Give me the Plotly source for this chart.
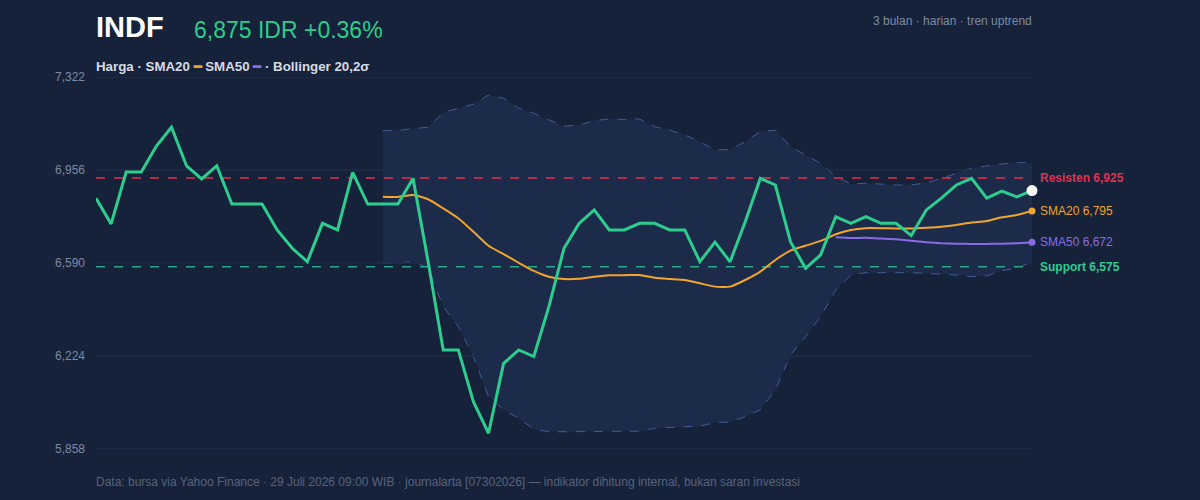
import plotly.graph_objects as go

# ---------------- data ----------------
price = [6845, 6744, 6948, 6948, 7050, 7124, 6972, 6921, 6973, 6822,
         6822, 6822, 6720, 6648, 6595, 6746, 6720, 6947, 6822, 6822,
         6822, 6923, 6595, 6248, 6248, 6044, 5920, 6195, 6248, 6222,
         6418, 6648, 6746, 6799, 6720, 6720, 6746, 6746, 6720, 6720,
         6595, 6672, 6595, 6751, 6923, 6897, 6674, 6569, 6622, 6772,
         6746, 6772, 6746, 6746, 6698, 6799, 6845, 6897, 6923, 6845,
         6873, 6850, 6875]

# indicators start at index 19 (SMA20 / Bollinger) and 49 (SMA50)
sma20 = [6851, 6850, 6858, 6841, 6805, 6766, 6713, 6658, 6625, 6591,
         6559, 6536, 6527, 6528, 6536, 6542, 6542, 6543, 6532, 6527,
         6523, 6510, 6497, 6497, 6523, 6556, 6602, 6639, 6658, 6677,
         6703, 6720, 6727, 6727, 6726, 6726, 6729, 6733, 6740, 6749,
         6755, 6770, 6779, 6795]
boll_upper = [7111, 7111, 7119, 7124, 7183, 7199, 7215, 7251, 7238, 7199,
              7179, 7153, 7129, 7133, 7150, 7157, 7155, 7157, 7126, 7113,
              7094, 7067, 7035, 7037, 7067, 7107, 7113, 7048, 7015, 6982,
              6930, 6901, 6904, 6901, 6897, 6897, 6906, 6923, 6943, 6963,
              6972, 6980, 6985, 6985]
boll_lower = [6589, 6589, 6598, 6569, 6418, 6340, 6222, 6064, 6012, 5979,
              5936, 5926, 5926, 5926, 5926, 5926, 5926, 5928, 5940, 5942,
              5946, 5948, 5962, 5964, 5985, 6012, 6090, 6228, 6300, 6379,
              6484, 6543, 6552, 6552, 6552, 6552, 6549, 6546, 6543, 6536,
              6539, 6560, 6569, 6595]
sma50 = [6691, 6688, 6689, 6686, 6683, 6678, 6672, 6668, 6666, 6665,
         6665, 6666, 6668, 6672]

resistance = 6925
support = 6575
y_ticks = [5858, 6224, 6590, 6956, 7322]
y_tick_text = ["5,858", "6,224", "6,590", "6,956", "7,322"]

x_all = list(range(len(price)))
x20 = list(range(19, 19 + len(sma20)))
x50 = list(range(49, 49 + len(sma50)))
x_last = len(price) - 1

# ---------------- style ----------------
BG = "#16223a"
BAND_FILL = "#1c2b4a"
BAND_LINE = "#405c94"
GREEN = "#2ecc8f"
ORANGE = "#f0a52e"
PURPLE = "#8a6be6"
RED = "#dc3350"
TEAL = "#28a888"
GRID = "#1f2c48"
MUTED = "#7d8aa3"
FONT = "Liberation Sans, Arial, sans-serif"

fig = go.Figure()

# Bollinger band
fig.add_trace(go.Scatter(x=x20, y=boll_upper, mode="lines",
                         line=dict(color=BAND_LINE, width=1, dash="dash"),
                         hoverinfo="skip", showlegend=False))
fig.add_trace(go.Scatter(x=x20, y=boll_lower, mode="lines",
                         line=dict(color=BAND_LINE, width=1, dash="dash"),
                         fill="tonexty", fillcolor=BAND_FILL,
                         hoverinfo="skip", showlegend=False))

# horizontal grid lines (drawn above the band fill)
for t in y_ticks:
    fig.add_trace(go.Scatter(x=[0, x_last], y=[t, t], mode="lines",
                             line=dict(color=GRID, width=1.5),
                             hoverinfo="skip", showlegend=False, cliponaxis=False))

# support / resistance
fig.add_trace(go.Scatter(x=[0, x_last], y=[resistance, resistance], mode="lines",
                         line=dict(color=RED, width=1.5, dash="dash"),
                         hoverinfo="skip", showlegend=False))
fig.add_trace(go.Scatter(x=[0, x_last], y=[support, support], mode="lines",
                         line=dict(color=TEAL, width=1.5, dash="dash"),
                         hoverinfo="skip", showlegend=False))

# SMAs
fig.add_trace(go.Scatter(x=x20, y=sma20, mode="lines",
                         line=dict(color=ORANGE, width=2, shape="spline", smoothing=0.5),
                         showlegend=False))
fig.add_trace(go.Scatter(x=x50, y=sma50, mode="lines",
                         line=dict(color=PURPLE, width=2, shape="spline", smoothing=0.5),
                         showlegend=False))

# price
fig.add_trace(go.Scatter(x=x_all, y=price, mode="lines",
                         line=dict(color=GREEN, width=3), showlegend=False))

# end markers
fig.add_trace(go.Scatter(x=[x20[-1]], y=[sma20[-1]], mode="markers",
                         marker=dict(color=ORANGE, size=7), cliponaxis=False, showlegend=False))
fig.add_trace(go.Scatter(x=[x50[-1]], y=[sma50[-1]], mode="markers",
                         marker=dict(color=PURPLE, size=7), cliponaxis=False, showlegend=False))
fig.add_trace(go.Scatter(x=[x_last], y=[price[-1]], mode="markers",
                         marker=dict(color="#ffffff", size=11), cliponaxis=False, showlegend=False))

annotations = [
    dict(text="<b>INDF</b>", x=0, y=1.134, xref="paper", yref="paper",
         xanchor="left", yanchor="middle", showarrow=False, xshift=-2,
         font=dict(size=29, color="#ffffff", family=FONT)),
    dict(text="6,875 IDR +0.36%", x=0.1047, y=1.126, xref="paper", yref="paper",
         xanchor="left", yanchor="middle", showarrow=False, xshift=-2,
         font=dict(size=23, color=GREEN, family=FONT)),
    dict(text="3 bulan · harian · tren uptrend", x=1, y=1.151, xref="paper", yref="paper",
         xanchor="right", yanchor="middle", showarrow=False, xshift=2,
         font=dict(size=12, color=MUTED, family=FONT)),
    dict(text=("<b>Harga · SMA20 <span style='color:%s'>━</span> SMA50 "
               "<span style='color:%s'>━</span> · Bollinger 20,2σ</b>") % (ORANGE, PURPLE),
         x=0, y=1.027, xref="paper", yref="paper",
         xanchor="left", yanchor="middle", showarrow=False, xshift=-2,
         font=dict(size=13.3, color="#d5dbe8", family=FONT)),
    dict(text="Data: bursa via Yahoo Finance · 29 Juli 2026 09:00 WIB · journalarta [07302026] — indikator dihitung internal, bukan saran investasi",
         x=0, y=-0.0887, xref="paper", yref="paper",
         xanchor="left", yanchor="middle", showarrow=False, xshift=-2,
         font=dict(size=12, color="#56627c", family=FONT)),
    dict(text="<b>Resisten 6,925</b>", x=1, y=resistance, xref="paper", yref="y",
         xanchor="left", yanchor="middle", xshift=6, showarrow=False,
         font=dict(size=12, color=RED, family=FONT)),
    dict(text="SMA20 6,795", x=1, y=sma20[-1], xref="paper", yref="y",
         xanchor="left", yanchor="middle", xshift=6, showarrow=False,
         font=dict(size=12, color=ORANGE, family=FONT)),
    dict(text="SMA50 6,672", x=1, y=sma50[-1], xref="paper", yref="y",
         xanchor="left", yanchor="middle", xshift=6, showarrow=False,
         font=dict(size=12, color=PURPLE, family=FONT)),
    dict(text="<b>Support 6,575</b>", x=1, y=support, xref="paper", yref="y",
         xanchor="left", yanchor="middle", xshift=6, showarrow=False,
         font=dict(size=12, color=GREEN, family=FONT)),
]

fig.update_layout(
    width=1200, height=500,
    margin=dict(l=96, r=168, t=77, b=51),
    paper_bgcolor=BG, plot_bgcolor=BG,
    font=dict(family=FONT, color=MUTED),
    annotations=annotations,
    hovermode=False,
    xaxis=dict(range=[0, x_last], visible=False, showgrid=False, zeroline=False),
    yaxis=dict(range=[y_ticks[0], y_ticks[-1]], tickvals=y_ticks, ticktext=y_tick_text,
               showgrid=False, zeroline=False,
               showline=False, ticks="", ticklabelstandoff=10,
               tickfont=dict(size=12, color=MUTED, family=FONT)),
)

fig.write_html("out.html", config={"displayModeBar": False})
